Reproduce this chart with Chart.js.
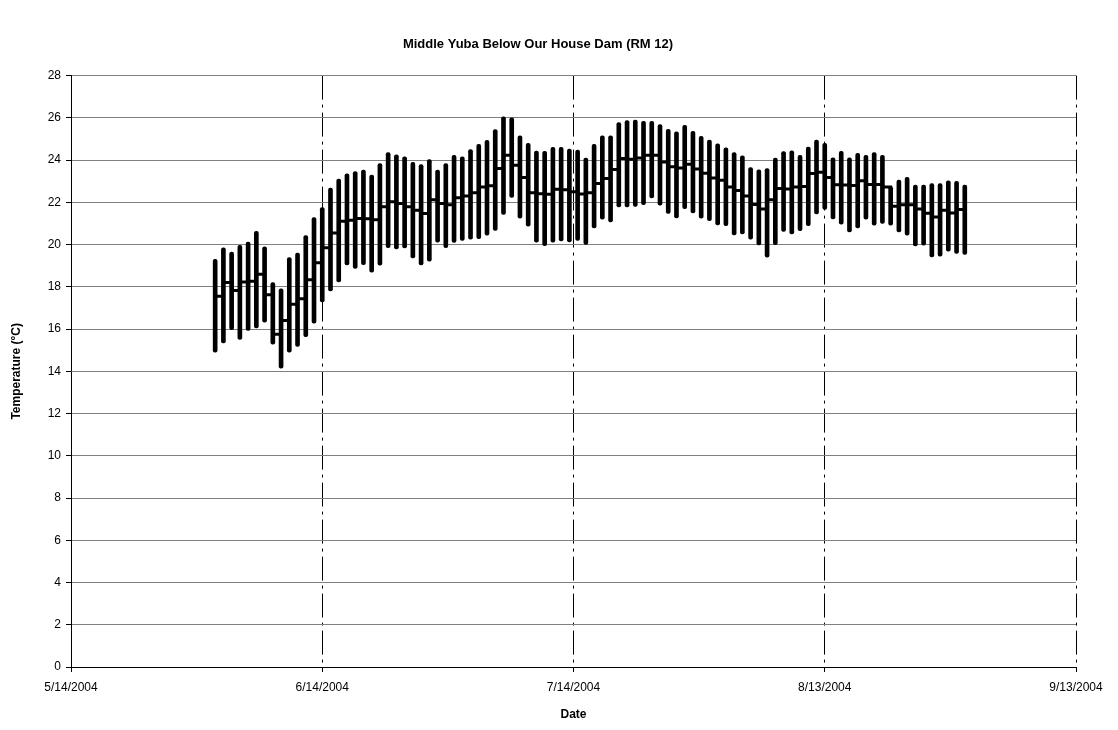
<!DOCTYPE html>
<html>
<head>
<meta charset="utf-8">
<script src="https://cdn.jsdelivr.net/npm/chart.js@4.4.1/dist/chart.umd.min.js"></script>
<style>
html, body { margin: 0; padding: 0; background: #fff; }
#wrap { width: 1118px; height: 730px; }
</style>
</head>
<body>
<div id="wrap"><canvas id="chart" width="1118" height="730"></canvas></div>
<script>
// daily readings, one per day starting 5/31/2004
const firstDay = [2004, 4, 31];
const maxTemp = [
    19.30, 19.84, 19.65, 19.97, 20.12, 20.63, 19.89, 18.20, 17.91, 19.39,
    19.60, 20.43, 21.28, 21.75, 22.67, 23.10, 23.35, 23.45, 23.53, 23.29,
    23.84, 24.36, 24.25, 24.16, 23.89, 23.79, 24.02, 23.53, 23.84, 24.23,
    24.15, 24.50, 24.75, 24.94, 25.45, 26.05, 26.00, 25.15, 24.79, 24.43,
    24.42, 24.60, 24.60, 24.52, 24.47, 24.10, 24.75, 25.15, 25.15, 25.77,
    25.87, 25.89, 25.84, 25.84, 25.68, 25.46, 25.34, 25.65, 25.36, 25.12,
    24.95, 24.77, 24.58, 24.36, 24.20, 23.65, 23.54, 23.60, 24.10, 24.40,
    24.44, 24.22, 24.62, 24.95, 24.79, 24.11, 24.42, 24.11, 24.32, 24.22,
    24.36, 24.22, 22.74, 23.05, 23.18, 22.82, 22.82, 22.89, 22.89, 23.02,
    23.00, 22.82
];
const minTemp = [
    14.90, 15.34, 15.97, 15.51, 15.94, 16.05, 16.33, 15.29, 14.15, 14.91,
    15.18, 15.64, 16.28, 17.28, 17.80, 18.23, 19.04, 18.87, 19.05, 18.69,
    19.03, 19.85, 19.80, 19.84, 19.37, 19.04, 19.22, 20.11, 19.85, 20.10,
    20.20, 20.25, 20.28, 20.45, 20.67, 21.43, 22.23, 21.25, 20.87, 20.11,
    19.95, 20.11, 20.17, 20.13, 20.20, 20.01, 20.79, 21.20, 21.07, 21.78,
    21.78, 21.81, 21.89, 22.21, 21.86, 21.47, 21.26, 21.70, 21.50, 21.25,
    21.13, 20.93, 20.90, 20.46, 20.50, 20.26, 19.98, 19.40, 20.00, 20.62,
    20.50, 20.66, 20.90, 21.45, 21.66, 21.22, 20.97, 20.60, 20.79, 21.20,
    20.92, 21.00, 20.92, 20.60, 20.45, 19.94, 19.97, 19.42, 19.45, 19.69,
    19.58, 19.53
];
const meanTemp = [
    17.55, 18.20, 17.83, 18.23, 18.26, 18.59, 17.63, 15.75, 16.41, 17.17,
    17.44, 18.34, 19.14, 19.85, 20.55, 21.10, 21.15, 21.23, 21.22, 21.18,
    21.79, 22.03, 21.95, 21.79, 21.63, 21.47, 22.12, 21.95, 21.88, 22.22,
    22.30, 22.45, 22.73, 22.78, 23.60, 24.23, 23.76, 23.17, 22.45, 22.41,
    22.38, 22.62, 22.59, 22.50, 22.40, 22.45, 22.89, 23.13, 23.55, 24.07,
    24.04, 24.10, 24.23, 24.23, 23.91, 23.68, 23.63, 23.80, 23.58, 23.38,
    23.15, 23.05, 22.72, 22.56, 22.30, 21.90, 21.68, 22.12, 22.66, 22.63,
    22.73, 22.75, 23.36, 23.42, 23.17, 22.83, 22.82, 22.80, 23.02, 22.85,
    22.84, 22.72, 21.82, 21.88, 21.88, 21.68, 21.48, 21.30, 21.62, 21.50,
    21.66, 21.55
];
// x axis runs 5/14/2004 .. 9/13/2004, five evenly spaced ticks
const xTickDays = [0, 30.5, 61, 91.5, 122];
const xTickLabels = ['5/14/2004', '6/14/2004', '7/14/2004', '8/13/2004', '9/13/2004'];
const yTicks = [0, 2, 4, 6, 8, 10, 12, 14, 16, 18, 20, 22, 24, 26, 28];

const DAY = 86400000;
const origin = Date.UTC(2004, 4, 14);
const start = Date.UTC(firstDay[0], firstDay[1], firstDay[2]);
// readings sit at noon of each day
const dayX = maxTemp.map((_, i) => (start + i * DAY - origin) / DAY + 0.5);

const font = 'Liberation Sans, Arial, Helvetica, sans-serif';
Chart.defaults.font.family = font;
Chart.defaults.color = '#000';

new Chart(document.getElementById('chart'), {
    type: 'bar',
    data: {
        datasets: [{
            type: 'line',
            label: 'Mean',
            data: dayX.map((x, i) => ({ x: x, y: meanTemp[i] })),
            borderColor: '#000',
            borderWidth: 3,
            pointRadius: 0,
            stepped: 'before',
            fill: false,
            order: 0
        }, {
            type: 'bar',
            label: 'Range',
            data: dayX.map((x, i) => ({ x: x, y: [minTemp[i], maxTemp[i]] })),
            backgroundColor: '#000',
            barThickness: 4,
            borderRadius: 2,
            borderSkipped: false,
            order: 1
        }]
    },
    options: {
        responsive: false,
        animation: false,
        layout: { padding: { top: 37, right: 42, bottom: 0, left: 0 } },
        plugins: {
            legend: { display: false },
            tooltip: { enabled: false },
            title: {
                display: true,
                text: 'Middle Yuba Below Our House Dam (RM 12)',
                font: { size: 13, weight: 'bold' },
                color: '#000',
                padding: { top: 0, bottom: 23 }
            }
        },
        scales: {
            x: {
                type: 'linear',
                min: 0,
                max: 122,
                offset: false,
                afterBuildTicks: s => { s.ticks = xTickDays.map(v => ({ value: v })); },
                afterFit: s => { s.height = 63; },
                ticks: {
                    callback: (v, i) => xTickLabels[i],
                    font: { size: 12 },
                    padding: 8,
                    maxRotation: 0,
                    autoSkip: false
                },
                grid: {
                    offset: false,
                    color: c => c.tick && c.tick.value === 0 ? 'rgba(0,0,0,0)' : '#000',
                    lineWidth: 1,
                    tickLength: 5,
                    tickColor: '#000',
                    tickBorderDash: []
                },
                border: { color: '#000', width: 1, dash: [24, 5, 3, 5] },
                title: {
                    display: true,
                    text: 'Date',
                    font: { size: 12, weight: 'bold' },
                    padding: { top: 0, bottom: 8 }
                }
            },
            y: {
                min: 0,
                max: 28,
                afterBuildTicks: s => { s.ticks = yTicks.map(v => ({ value: v })); },
                afterFit: s => { s.width = 71; },
                ticks: { font: { size: 12 }, padding: 5 },
                grid: {
                    color: '#808080',
                    lineWidth: 1,
                    tickLength: 5,
                    tickColor: '#000'
                },
                border: { color: '#000', width: 1 },
                title: {
                    display: true,
                    text: 'Temperature (°C)',
                    font: { size: 12, weight: 'bold' },
                    padding: { top: 9, bottom: 0 }
                }
            }
        }
    }
});
</script>
</body>
</html>
